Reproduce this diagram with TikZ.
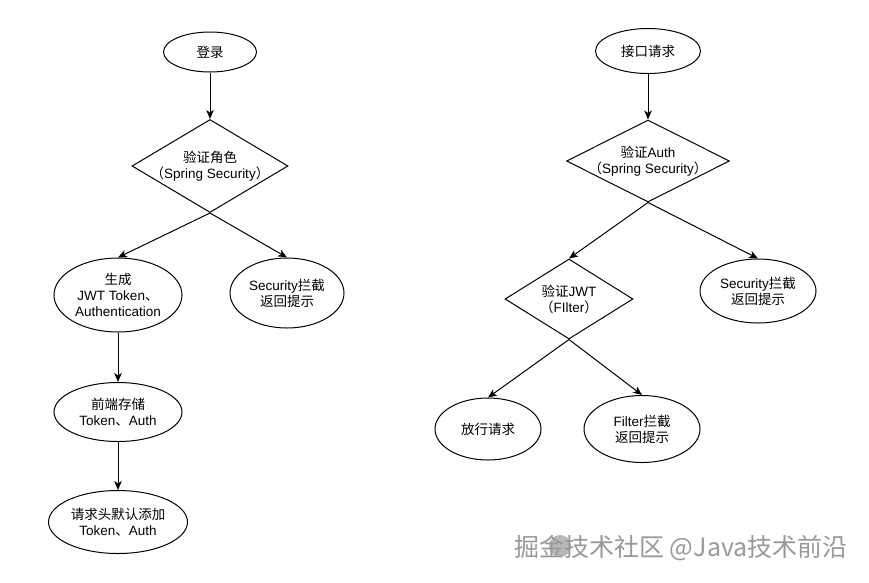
\documentclass[tikz,border=0pt]{standalone}
\usepackage{fontspec}
\setmainfont{Liberation Sans}
\newfontfamily\cjk{Noto Sans CJK SC}
\usetikzlibrary{shapes.geometric,arrows.meta,calc}
\pgfdeclarelayer{back}
\pgfdeclarelayer{bg}
\pgfsetlayers{back,bg,main}
\newcommand\zh[1]{{\cjk #1}}
\begin{document}
\begin{tikzpicture}[x=1pt,y=-1pt,
  every node/.style={font=\fontsize{13.5}{16}\selectfont, align=center, inner sep=0pt},
  ell/.style={ellipse, draw, line width=1pt, fill=white},
  dia/.style={diamond, draw, line width=1pt, fill=white},
  arr/.style={-{Stealth[length=9pt,width=7.5pt,inset=2.5pt]}, line width=1pt},
  wmark/.style={font=\cjk\fontsize{25}{25}\selectfont, text=black!40}]
\begin{pgfonlayer}{back}
\fill[white] (0,0) rectangle (869,582);
\end{pgfonlayer}
\useasboundingbox (0,0) rectangle (869,582);
% left column
\node[ell, minimum width=93, minimum height=40] (login) at (210,52) {\zh{登录}};
\node[dia, minimum width=156, minimum height=93,
  label={[name=d1t]center:{\zh{验证角色}\\\zh{（}Spring Security\zh{）}}}] (d1) at (210,166) {};
\node[ell, minimum width=128, minimum height=74] (gen) at (118,295) {\zh{生成}\\JWT Token\zh{、}\\Authentication};
\node[ell, minimum width=114, minimum height=70] (sec1) at (287,293) {Security\zh{拦截}\\\zh{返回提示}};
\node[ell, minimum width=128, minimum height=59] (store) at (118,412) {\zh{前端存储}\\Token\zh{、}Auth};
\node[ell, minimum width=139, minimum height=63] (hdr) at (118,522) {\zh{请求头默认添加}\\Token\zh{、}Auth};
% right column
\node[ell, minimum width=105, minimum height=45] (req) at (648,51) {\zh{接口请求}};
\node[dia, minimum width=163, minimum height=82,
  label={[name=d2t]center:{\zh{验证}Auth\\\zh{（}Spring Security\zh{）}}}] (d2) at (648,161) {};
\node[dia, minimum width=128, minimum height=80,
  label={[name=d3t]center:{\zh{验证}JWT\\\zh{（}FIlter\zh{）}}}] (d3) at (569,299) {};
\node[ell, minimum width=116, minimum height=64] (sec2) at (758,291) {Security\zh{拦截}\\\zh{返回提示}};
\node[ell, minimum width=106, minimum height=62] (pass) at (488,429) {\zh{放行请求}};
\node[ell, minimum width=116, minimum height=67] (filt) at (642,429) {Filter\zh{拦截}\\\zh{返回提示}};
% straight connectors
\draw[arr] (login) -- (d1);
\draw[arr] (gen) -- (store);
\draw[arr] (store) -- (hdr);
\draw[arr] (req) -- (d2);
% crossing connectors behind diamonds
\begin{pgfonlayer}{bg}
\draw[arr] (d1.south) -- (gen.north);
\draw[arr] (d1.south) -- (sec1.north);
\draw[arr] (d2.south) -- (d3.north);
\draw[arr] (d2.south) -- (sec2.north);
\draw[arr] (d3.south) -- (pass.north);
\draw[arr] (d3.south) -- (filt.north);
\end{pgfonlayer}
% watermark
\fill[black!28] (560,546) circle (11);
\node[wmark] (wm) at (681,548) {掘金技术社区 @Java技术前沿};
\end{tikzpicture}
\end{document}
